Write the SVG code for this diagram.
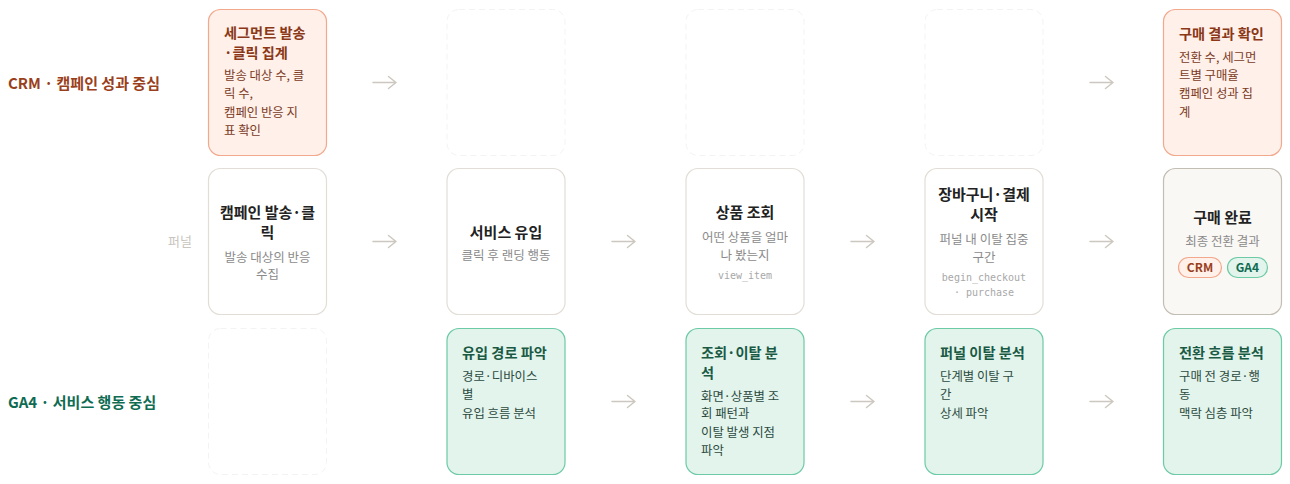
<svg xmlns="http://www.w3.org/2000/svg" width="1290" height="484" viewBox="0 0 1290 484">
<style>
text{font-family:"Noto Sans CJK KR","Noto Sans",sans-serif;}
.lane{font-size:15px;font-weight:700;}
.crm-l{fill:#9a3f1c;}
.ga4-l{fill:#0f6b52;}
.funnel{font-size:13px;fill:#c9c5be;}
.crm{fill:#fff0ea;stroke:#f2a88c;stroke-width:1.2;}
.ga4{fill:#e2f4ec;stroke:#6ccaa6;stroke-width:1.2;}
.mid{fill:#ffffff;stroke:#e2ded7;stroke-width:1.2;}
.midend{fill:#faf8f5;stroke:#c3beb4;stroke-width:1.2;}
.ph{fill:none;stroke:#f3f3f3;stroke-width:1;stroke-dasharray:6 4;}
.t-crm{font-size:14.2px;font-weight:700;fill:#8a3817;}
.b-crm{font-size:12.4px;fill:#7a3a1e;}
.t-ga4{font-size:14.2px;font-weight:700;fill:#1a5a44;}
.b-ga4{font-size:12.4px;fill:#2c4a40;}
.t-mid{font-size:15px;font-weight:700;fill:#222222;text-anchor:middle;}
.b-mid{font-size:12.5px;fill:#8a8a8a;text-anchor:middle;}
.mono{font-family:"DejaVu Sans Mono","Liberation Mono",monospace;font-size:10px;fill:#a8a8a8;text-anchor:middle;}
.arrow{fill:none;stroke:#ccc8bf;stroke-width:1.5;stroke-linecap:round;stroke-linejoin:round;}
.pill-crm{fill:#fff0ea;stroke:#f2a88c;stroke-width:1.2;}
.pill-ga4{fill:#e2f4ec;stroke:#6ccaa6;stroke-width:1.2;}
.pt{font-size:12px;font-weight:700;text-anchor:middle;}
</style>

<g id="lane-labels">
<text class="lane crm-l" x="8" y="88.5">CRM · 캠페인 성과 중심</text>
<text class="funnel" x="168" y="246">퍼널</text>
<text class="lane ga4-l" x="8" y="407.5">GA4 · 서비스 행동 중심</text>
</g>

<g id="connectors">
<path class="arrow" d="M373 82.5H396M388.5 76.5L396 82.5L388.5 88.5"/>
<path class="arrow" d="M1090 82.5H1113M1105.5 76.5L1113 82.5L1105.5 88.5"/>
<path class="arrow" d="M373 241.5H396M388.5 235.5L396 241.5L388.5 247.5"/>
<path class="arrow" d="M612 241.5H635M627.5 235.5L635 241.5L627.5 247.5"/>
<path class="arrow" d="M851 241.5H874M866.5 235.5L874 241.5L866.5 247.5"/>
<path class="arrow" d="M1090 241.5H1113M1105.5 235.5L1113 241.5L1105.5 247.5"/>
<path class="arrow" d="M612 401.5H635M627.5 395.5L635 401.5L627.5 407.5"/>
<path class="arrow" d="M851 401.5H874M866.5 395.5L874 401.5L866.5 407.5"/>
<path class="arrow" d="M1090 401.5H1113M1105.5 395.5L1113 401.5L1105.5 407.5"/>
</g>

<!-- CRM row -->
<g id="crm-segment">
<rect class="crm" x="208.5" y="9.5" width="118" height="146" rx="12"/>
<text class="t-crm" x="224" y="38">세그먼트 발송</text>
<text class="t-crm" x="224" y="57.5">·클릭 집계</text>
<text class="b-crm" x="224" y="80">발송 대상 수, 클</text>
<text class="b-crm" x="224" y="98">릭 수,</text>
<text class="b-crm" x="224" y="116.5">캠페인 반응 지</text>
<text class="b-crm" x="224" y="135">표 확인</text>
</g>
<g id="crm-empty-2"><rect class="ph" x="447" y="9.5" width="118" height="146" rx="12"/></g>
<g id="crm-empty-3"><rect class="ph" x="686" y="9.5" width="118" height="146" rx="12"/></g>
<g id="crm-empty-4"><rect class="ph" x="925" y="9.5" width="118" height="146" rx="12"/></g>
<g id="crm-result">
<rect class="crm" x="1163.5" y="9.5" width="118" height="146" rx="12"/>
<text class="t-crm" x="1179" y="38.5">구매 결과 확인</text>
<text class="b-crm" x="1179" y="61.5">전환 수, 세그먼</text>
<text class="b-crm" x="1179" y="79.5">트별 구매율</text>
<text class="b-crm" x="1179" y="98">캠페인 성과 집</text>
<text class="b-crm" x="1179" y="116.5">계</text>
</g>

<!-- Funnel row -->
<g id="funnel-campaign">
<rect class="mid" x="208.5" y="168.5" width="118" height="146" rx="12"/>
<text class="t-mid" x="267.5" y="218">캠페인 발송·클</text>
<text class="t-mid" x="267.5" y="238">릭</text>
<text class="b-mid" x="267.5" y="261.5">발송 대상의 반응</text>
<text class="b-mid" x="267.5" y="279">수집</text>
</g>
<g id="funnel-visit">
<rect class="mid" x="447" y="168.5" width="118" height="146" rx="12"/>
<text class="t-mid" x="506" y="237.5">서비스 유입</text>
<text class="b-mid" x="506" y="260">클릭 후 랜딩 행동</text>
</g>
<g id="funnel-view">
<rect class="mid" x="686" y="168.5" width="118" height="146" rx="12"/>
<text class="t-mid" x="745" y="218">상품 조회</text>
<text class="b-mid" x="745" y="241.5">어떤 상품을 얼마</text>
<text class="b-mid" x="745" y="259.5">나 봤는지</text>
<text class="mono" x="745" y="278.5">view_item</text>
</g>
<g id="funnel-checkout">
<rect class="mid" x="925" y="168.5" width="118" height="146" rx="12"/>
<text class="t-mid" x="984" y="200">장바구니·결제</text>
<text class="t-mid" x="984" y="220">시작</text>
<text class="b-mid" x="984" y="244">퍼널 내 이탈 집중</text>
<text class="b-mid" x="984" y="262">구간</text>
<text class="mono" x="984" y="281">begin_checkout</text>
<text class="mono" x="984" y="296">· purchase</text>
</g>
<g id="funnel-purchase">
<rect class="midend" x="1163.5" y="168.5" width="118" height="146" rx="12"/>
<text class="t-mid" x="1222.5" y="222.5">구매 완료</text>
<text class="b-mid" x="1222.5" y="245.5">최종 전환 결과</text>
<rect class="pill-crm" x="1178.5" y="257.5" width="43" height="20" rx="10"/>
<text class="pt" x="1200" y="272" fill="#9a3f1c">CRM</text>
<rect class="pill-ga4" x="1227.5" y="257.5" width="40" height="20" rx="10"/>
<text class="pt" x="1247.5" y="272" fill="#0f6b52">GA4</text>
</g>

<!-- GA4 row -->
<g id="ga4-empty-1"><rect class="ph" x="208.5" y="328.5" width="118" height="146" rx="12"/></g>
<g id="ga4-inflow">
<rect class="ga4" x="447" y="328.5" width="118" height="146" rx="12"/>
<text class="t-ga4" x="462" y="358">유입 경로 파악</text>
<text class="b-ga4" x="462" y="380.5">경로·디바이스</text>
<text class="b-ga4" x="462" y="399">별</text>
<text class="b-ga4" x="462" y="417.5">유입 흐름 분석</text>
</g>
<g id="ga4-view">
<rect class="ga4" x="686" y="328.5" width="118" height="146" rx="12"/>
<text class="t-ga4" x="701" y="358">조회·이탈 분</text>
<text class="t-ga4" x="701" y="377.5">석</text>
<text class="b-ga4" x="701" y="400.5">화면·상품별 조</text>
<text class="b-ga4" x="701" y="418">회 패턴과</text>
<text class="b-ga4" x="701" y="436.5">이탈 발생 지점</text>
<text class="b-ga4" x="701" y="455">파악</text>
</g>
<g id="ga4-funnel">
<rect class="ga4" x="925" y="328.5" width="118" height="146" rx="12"/>
<text class="t-ga4" x="940" y="358">퍼널 이탈 분석</text>
<text class="b-ga4" x="940" y="380.5">단계별 이탈 구</text>
<text class="b-ga4" x="940" y="399">간</text>
<text class="b-ga4" x="940" y="417.5">상세 파악</text>
</g>
<g id="ga4-conversion">
<rect class="ga4" x="1163.5" y="328.5" width="118" height="146" rx="12"/>
<text class="t-ga4" x="1179" y="358">전환 흐름 분석</text>
<text class="b-ga4" x="1179" y="380.5">구매 전 경로·행</text>
<text class="b-ga4" x="1179" y="399">동</text>
<text class="b-ga4" x="1179" y="417.5">맥락 심층 파악</text>
</g>
</svg>
